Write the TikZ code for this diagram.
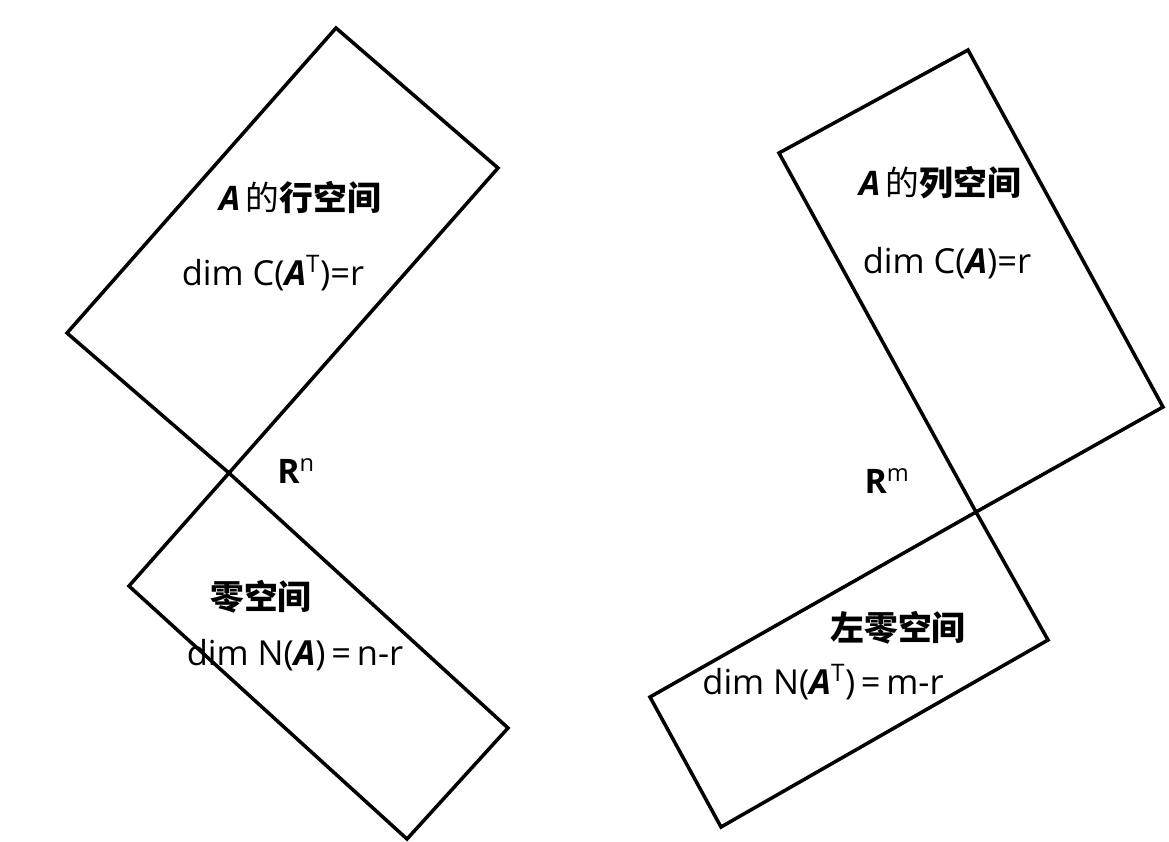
\documentclass[tikz,border=0pt]{standalone}
\usepackage{fontspec}
\setmainfont{Open Sans}
\newfontfamily\cjk{Noto Sans CJK SC}
\newcommand{\mA}{\textbf{\textit{A}}}
\begin{document}
\begin{tikzpicture}[
    x={(0.025cm,0)}, y={(0,-0.025cm)},
    font=\fontsize{24}{28}\selectfont,
    space/.style={
        draw,
        line width=2.5pt,
        line join=miter
    },
    title/.style={font=\fontsize{24}{28}\selectfont},
    dimtext/.style={font=\fontsize{24.5}{28}\selectfont}
]

\useasboundingbox (0,0) rectangle (1169,841);

% Corners of R^n
\coordinate (o1) at (229,473);
\coordinate (r1) at (67,333);
\coordinate (r2) at (336,28);
\coordinate (r3) at (498,168);
\coordinate (n1) at (129,586);
\coordinate (n2) at (407,839);
\coordinate (n3) at (508,728);

% Corners of R^m
\coordinate (o2) at (976,512);
\coordinate (c1) at (779,153);
\coordinate (c2) at (968,50);
\coordinate (c3) at (1163,407);
\coordinate (l1) at (1048,640);
\coordinate (l2) at (721,827);
\coordinate (l3) at (650,697);

% Subspaces
\draw[space] (o1) -- (r1) -- (r2) -- (r3) -- cycle;
\draw[space] (o1) -- (n1) -- (n2) -- (n3) -- cycle;
\draw[space] (o2) -- (c1) -- (c2) -- (c3) -- cycle;
\draw[space] (o2) -- (l1) -- (l2) -- (l3) -- cycle;

% Left
\node[title] (rowname) at (300,197) {\mA\,{\cjk 的\bfseries 行空间}};
\node[dimtext] (rowdim) at (273,273) {dim C(\mA\textsuperscript{T})=r};
\node (rn) at (296,471) {\textbf{R}\textsuperscript{n}};
\node[title] (nullname) at (261,597) {\cjk\bfseries 零空间};
\node[dimtext] (nulldim) at (295,655) {dim N(\mA)\,=\,n-r};

% Right
\node[title] (colname) at (940,183) {\mA\,{\cjk 的\bfseries 列空间}};
\node[dimtext] (coldim) at (947,263) {dim C(\mA)=r};
\node (rm) at (887,481) {\textbf{R}\textsuperscript{m}};
\node[title] (lnullname) at (898,628) {\cjk\bfseries 左零空间};
\node[dimtext] (lnulldim) at (823,682) {dim N(\mA\textsuperscript{T})\,=\,m-r};

\end{tikzpicture}
\end{document}
